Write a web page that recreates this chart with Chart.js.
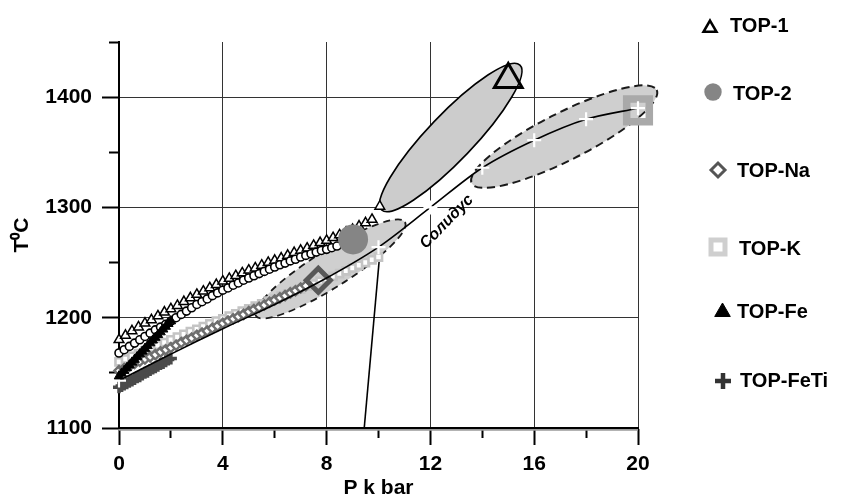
<!DOCTYPE html>
<html><head><meta charset="utf-8">
<script src="https://cdn.jsdelivr.net/npm/chart.js@4.4.0/dist/chart.umd.min.js"></script>
<style>html,body{margin:0;padding:0;background:#fff;}canvas{display:block;}</style>
</head><body>
<canvas id="c" width="841" height="501"></canvas>
<script>
// ---------------- data (P in kbar, T in °C) ----------------
const SERIES_NAMES = ['TOP-1', 'TOP-2', 'TOP-Na', 'TOP-K', 'TOP-Fe', 'TOP-FeTi'];

const TOP1_P = [0,0.25,0.5,0.75,1,1.25,1.5,1.75,2,2.25,2.5,2.75,3,3.25,3.5,3.75,4,4.25,4.5,4.75,5,5.25,5.5,5.75,6,6.25,6.5,6.75,7,7.25,7.5,7.75,8,8.25,8.5,8.75,9,9.25,9.5,9.75,10.05,15];
const TOP1_T = [1180,1184,1188,1191.5,1195,1198,1201.5,1205,1208,1211,1214.5,1218,1221,1224,1227,1230,1233,1235.5,1238,1240.5,1243,1245,1247.5,1250,1252,1254,1256.5,1259,1261,1263,1265.5,1268,1270,1272.5,1275,1277.5,1280,1283,1286,1289,1301,1416];

const TOP2_P = [0,0.2,0.4,0.6,0.8,1,1.2,1.4,1.6,1.8,2,2.2,2.4,2.6,2.8,3,3.2,3.4,3.6,3.8,4,4.2,4.4,4.6,4.8,5,5.2,5.4,5.6,5.8,6,6.2,6.4,6.6,6.8,7,7.2,7.4,7.6,7.8,8,8.2,8.4,9.02];
const TOP2_T = [1168,1171,1174,1177,1180,1183,1186,1189,1191.5,1194,1197,1200,1203,1206,1209,1212,1214.5,1217,1220,1222.5,1225,1227,1229.5,1231.5,1234,1236,1238,1240,1242,1244,1246,1248,1249.5,1251.5,1253,1255,1256.5,1258,1259.5,1261,1262,1263.5,1265,1271];

const TOPNA_P = [0,0.2,0.4,0.6,0.8,1,1.2,1.4,1.6,1.8,2,2.2,2.4,2.6,2.8,3,3.2,3.4,3.6,3.8,4,4.2,4.4,4.6,4.8,5,5.2,5.4,5.6,5.8,6,6.2,6.4,6.6,6.8,7,7.2,7.68];
const TOPNA_T = [1152,1154,1156,1158.5,1160.5,1162.5,1164.5,1166.5,1169,1171,1173,1175,1177.5,1179.5,1181.5,1184,1186,1188,1190.5,1192.5,1195,1197,1199,1201,1203,1205.5,1207.5,1209.5,1211.5,1214,1216,1218,1220,1222.5,1224.5,1227,1229,1234];

const TOPK_P = [0,0.25,0.5,0.75,1,1.25,1.5,1.75,2,2.25,2.5,2.75,3,3.25,3.5,3.75,4,4.25,4.5,4.75,5,5.25,5.5,5.75,6,6.25,6.5,6.75,7,7.25,7.5,7.75,8,8.25,8.5,8.75,9,9.25,9.5,9.75,10,20];
const TOPK_T = [1160,1162.5,1165,1167.5,1170,1172.5,1175,1177.5,1180,1182.5,1185,1187.5,1189.5,1192,1194.5,1197,1199,1201.5,1203.5,1206,1208,1210.5,1212.5,1215,1217,1219.5,1221.5,1224,1226,1228.5,1230.5,1233,1235,1237.5,1240,1242.5,1245,1247.5,1250,1252.5,1255,1388];

const TOPFE_P = [0,0.1,0.2,0.3,0.4,0.5,0.6,0.7,0.8,0.9,1,1.1,1.2,1.3,1.4,1.5,1.6,1.7,1.8,1.9,2];
const TOPFE_T = [1147,1149.5,1152,1154.5,1157,1159.5,1162,1164.5,1167,1169.5,1172,1174.5,1177,1179.5,1182,1184.5,1187,1189.5,1192,1194.5,1197];

const TOPFETI_P = [0,0.1,0.2,0.3,0.4,0.5,0.6,0.7,0.8,0.9,1,1.1,1.2,1.3,1.4,1.5,1.6,1.7,1.8,1.9,2];
const TOPFETI_T = [1137,1138,1139.5,1140.5,1142,1143,1144.5,1146,1147,1148.5,1150,1151,1152.5,1154,1155,1156.5,1158,1159,1160.5,1162,1163];

const SOLIDUS_P = [0,2,4,6,8,10,12,14,16,18,20];
const SOLIDUS_T = [1143,1167,1190,1212,1236,1264,1300,1336,1361,1380,1390];
const SOLIDUS_LABEL = 'Солидус';
const SOLIDUS_LABEL_AT = [12.63, 1287];

const TIE_P = [10.05, 9.45];
const TIE_T = [1258, 1100];

const BASE_P = [0, 20];
const BASE_T = [1098.8, 1098.8];

// field ellipses: two tips (P,T)
const ELL_P1 = [5.28, 10.12, 13.59];
const ELL_T1 = [1201.6, 1297.7, 1321.9];
const ELL_P2 = [11.02, 15.45, 20.72];
const ELL_T2 = [1286.8, 1429.1, 1406.5];

const X_TICKS = [0, 4, 8, 12, 16, 20];
const Y_TICKS = [1100, 1200, 1300, 1400];

// ---------------- styling ----------------
const FONT = '"Liberation Sans", Arial, Helvetica, sans-serif';
const ELL_STYLE = [
  {ratio: 0.21, fill: '#cfcfcf', stroke: '#1a1a1a', width: 1.8, dash: [7, 5]},
  {ratio: 0.23, fill: '#cccccc', stroke: '#000000', width: 1.6, dash: []},
  {ratio: 0.23, fill: '#cfcfcf', stroke: '#1a1a1a', width: 2, dash: [8, 5]}
];
const LEGEND_MARKS = [
  {style: 'triangle', r: 7.5, fill: '#fff', stroke: '#000', w: 2.5, mx: 710, my: 28, tx: 730, ty: 26},
  {style: 'circle', r: 8.7, fill: '#858585', stroke: '#858585', w: 0, mx: 713, my: 92, tx: 733, ty: 94},
  {style: 'rectRot', r: 7, fill: '#fff', stroke: '#555', w: 3, mx: 718, my: 170, tx: 737, ty: 171},
  {style: 'rect', r: 9.9, fill: '#fff', stroke: '#cfcfcf', w: 5, mx: 718, my: 247, tx: 739, ty: 249},
  {style: 'triangle', r: 9, fill: '#000', stroke: '#000', w: 1, mx: 722.5, my: 312, tx: 737, ty: 312.5},
  {style: 'cross', r: 8, fill: '#333', stroke: '#333', w: 4.5, mx: 723, my: 381, tx: 740, ty: 381}
];

const pts = (P, T) => P.map((p, i) => ({x: p, y: T[i]}));
const isLast = c => c.dataIndex === c.dataset.data.length - 1;
const clear = 'rgba(0,0,0,0)';

const ellipsePlugin = {
  id: 'fields',
  beforeDatasetsDraw(chart) {
    const {ctx} = chart;
    const xs = chart.scales.x, ys = chart.scales.y;
    ctx.save();
    for (let i = 0; i < ELL_P1.length; i++) {
      const x1 = xs.getPixelForValue(ELL_P1[i]), y1 = ys.getPixelForValue(ELL_T1[i]);
      const x2 = xs.getPixelForValue(ELL_P2[i]), y2 = ys.getPixelForValue(ELL_T2[i]);
      const a = Math.hypot(x2 - x1, y2 - y1) / 2;
      const st = ELL_STYLE[i];
      ctx.beginPath();
      ctx.ellipse((x1 + x2) / 2, (y1 + y2) / 2, a, a * st.ratio, Math.atan2(y2 - y1, x2 - x1), 0, Math.PI * 2);
      ctx.fillStyle = st.fill;
      ctx.fill();
      ctx.setLineDash(st.dash);
      ctx.lineWidth = st.width;
      ctx.strokeStyle = st.stroke;
      ctx.stroke();
    }
    ctx.restore();
  },
  afterDatasetsDraw(chart) {
    const {ctx} = chart;
    const xs = chart.scales.x, ys = chart.scales.y;
    ctx.save();
    ctx.translate(xs.getPixelForValue(SOLIDUS_LABEL_AT[0]), ys.getPixelForValue(SOLIDUS_LABEL_AT[1]));
    ctx.rotate(-45.5 * Math.PI / 180);
    ctx.font = 'italic bold 16px ' + FONT;
    ctx.fillStyle = '#000';
    ctx.textAlign = 'center';
    ctx.textBaseline = 'middle';
    ctx.fillText(SOLIDUS_LABEL, 0, 0);
    ctx.restore();
  },
  afterDraw(chart) {
    const {ctx} = chart;
    ctx.save();
    ctx.font = 'bold 20px ' + FONT;
    ctx.textBaseline = 'middle';
    ctx.textAlign = 'left';
    SERIES_NAMES.forEach((name, i) => {
      const m = LEGEND_MARKS[i];
      ctx.fillStyle = m.fill;
      ctx.strokeStyle = m.stroke;
      ctx.lineWidth = m.w;
      ctx.setLineDash([]);
      Chart.helpers.drawPoint(ctx, {pointStyle: m.style, radius: m.r, rotation: 0, borderWidth: m.w}, m.mx, m.my);
      ctx.fillStyle = '#000';
      ctx.fillText(chart.data.datasets[i].label, m.tx, m.ty);
    });
    ctx.restore();
  }
};

const datasets = [
  {label: SERIES_NAMES[0], data: pts(TOP1_P, TOP1_T), order: 4,
   pointStyle: 'triangle', pointRadius: c => isLast(c) ? 16 : 5.6,
   pointBorderWidth: c => isLast(c) ? 3 : 1.5, pointBorderColor: '#000',
   pointBackgroundColor: c => isLast(c) ? clear : '#fff'},
  {label: SERIES_NAMES[1], data: pts(TOP2_P, TOP2_T), order: 3,
   pointStyle: 'circle', pointRadius: c => isLast(c) ? 15 : 4,
   pointBorderWidth: c => isLast(c) ? 0 : 1.6, pointBorderColor: c => isLast(c) ? '#858585' : '#000',
   pointBackgroundColor: c => isLast(c) ? '#858585' : '#fff'},
  {label: SERIES_NAMES[2], data: pts(TOPNA_P, TOPNA_T), order: 5,
   pointStyle: 'rectRot', pointRadius: c => isLast(c) ? 12 : 4.6,
   pointBorderWidth: c => isLast(c) ? 5 : 2.4, pointBorderColor: c => isLast(c) ? '#585858' : '#6e6e6e',
   pointBackgroundColor: c => isLast(c) ? clear : '#fff'},
  {label: SERIES_NAMES[3], data: pts(TOPK_P, TOPK_T), order: 6,
   pointStyle: 'rect', pointRadius: c => isLast(c) ? 16 : 5,
   pointBorderWidth: c => isLast(c) ? 7.5 : 2.6, pointBorderColor: c => isLast(c) ? '#a9a9a9' : '#c4c4c4',
   pointBackgroundColor: c => isLast(c) ? clear : '#fff'},
  {label: SERIES_NAMES[4], data: pts(TOPFE_P, TOPFE_T), order: 1,
   pointStyle: 'triangle', pointRadius: 5.5, pointBorderWidth: 1,
   pointBorderColor: '#000', pointBackgroundColor: '#000'},
  {label: SERIES_NAMES[5], data: pts(TOPFETI_P, TOPFETI_T), order: 7,
   pointStyle: 'cross', pointRadius: 6, pointBorderWidth: 3.5,
   pointBorderColor: '#4a4a4a', pointBackgroundColor: '#4a4a4a'},
  {label: 'solidus', data: pts(SOLIDUS_P, SOLIDUS_T), order: 2, showLine: true,
   borderColor: '#000', borderWidth: 1.6, tension: 0.3,
   pointStyle: 'cross', pointRadius: c => (c.raw && (c.raw.x < 1 || c.raw.x > 9.5)) ? 7 : 0,
   pointBorderColor: '#fff', pointBorderWidth: 2.2},
  {label: 'tie', data: pts(TIE_P, TIE_T), order: 8, showLine: true,
   borderColor: '#000', borderWidth: 1.6, pointRadius: 0},
  {label: 'base', data: pts(BASE_P, BASE_T), order: 9, showLine: true,
   borderColor: '#9a9a9a', borderWidth: 3, pointRadius: 0}
];
datasets.forEach(d => { d.clip = false; if (!d.showLine) d.showLine = false; });

new Chart(document.getElementById('c'), {
  type: 'scatter',
  data: {datasets},
  plugins: [ellipsePlugin],
  options: {
    responsive: false,
    animation: false,
    events: [],
    layout: {padding: {left: 0, top: 42, right: 203, bottom: 0}},
    plugins: {legend: {display: false}, tooltip: {enabled: false}},
    scales: {
      x: {
        type: 'linear', position: 'bottom', min: 0, max: 20,
        ticks: {stepSize: 2, autoSkip: false, maxRotation: 0, padding: 7, color: '#000',
                font: {family: FONT, size: 21, weight: 'bold'},
                callback: v => X_TICKS.includes(v) ? String(v) : ''},
        grid: {
          color: c => (c.tick && X_TICKS.includes(c.tick.value) && c.tick.value !== 0) ? '#333' : clear,
          lineWidth: 1, tickColor: '#000', tickWidth: 2, tickLength: 17,
          tickBorderDash: c => (c.tick && !X_TICKS.includes(c.tick.value)) ? [9, 100] : []
        },
        border: {color: '#000', width: 2, z: 1},
        title: {display: true, text: 'P k bar', color: '#000',
                font: {family: FONT, size: 21, weight: 'bold'}, padding: {top: 0, bottom: 0}},
        afterFit: s => { s.height = 73; }
      },
      y: {
        type: 'linear', position: 'left', min: 1100, max: 1450,
        ticks: {stepSize: 50, autoSkip: false, padding: 10, color: '#000',
                font: {family: FONT, size: 21, weight: 'bold'},
                callback: v => Y_TICKS.includes(v) ? String(v) : ''},
        grid: {
          color: c => (c.tick && Y_TICKS.includes(c.tick.value) && c.tick.value !== 1100) ? '#333' : clear,
          lineWidth: 1, tickColor: '#000', tickWidth: 2, tickLength: 17,
          tickBorderDash: c => (c.tick && !Y_TICKS.includes(c.tick.value)) ? [0, 7, 10, 100] : []
        },
        border: {color: '#000', width: 2},
        title: {display: true, text: 'T⁰C', color: '#000',
                font: {family: FONT, size: 21, weight: 'bold'}, padding: {top: 10, bottom: 0}},
        afterFit: s => { s.width = 119; }
      }
    }
  }
});
</script>
</body></html>
